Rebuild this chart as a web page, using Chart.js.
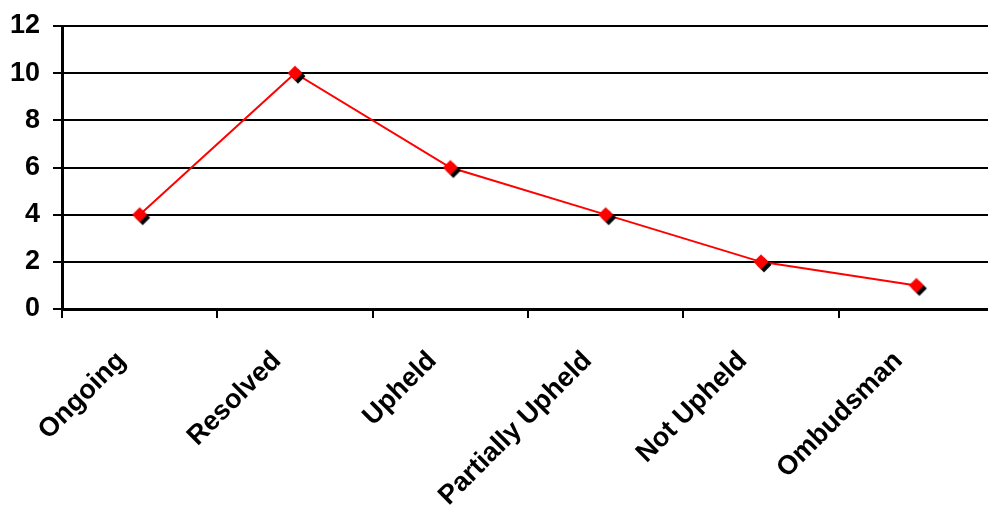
<!DOCTYPE html>
<html>
<head>
<meta charset="utf-8">
<script src="https://cdn.jsdelivr.net/npm/chart.js@4.4.1/dist/chart.umd.min.js"></script>
<style>
  html, body { margin: 0; padding: 0; background: #fff; overflow: hidden; }
  #wrap { position: relative; width: 1004px; height: 505px; }
</style>
</head>
<body>
<div id="wrap"><canvas id="c"></canvas></div>
<script>
const categories = ['Ongoing', 'Resolved', 'Upheld', 'Partially Upheld', 'Not Upheld', 'Ombudsman'];
const counts = [4, 10, 6, 4, 2, 1];
const yTicks = [0, 2, 4, 6, 8, 10, 12];

// Diamond marker with a black drop shadow, drawn once into an offscreen canvas
function makeMarker() {
  const size = 26, c = size / 2, r = 7.5, off = 3;
  const cv = document.createElement('canvas');
  cv.width = size; cv.height = size;
  const g = cv.getContext('2d');
  const diamond = (cx, cy, color) => {
    g.beginPath();
    g.moveTo(cx, cy - r); g.lineTo(cx + r, cy); g.lineTo(cx, cy + r); g.lineTo(cx - r, cy);
    g.closePath(); g.fillStyle = color; g.fill();
  };
  diamond(c + off, c + off, '#000000');
  diamond(c, c, '#ff0000');
  return cv;
}

const family = '"Liberation Sans", Arial, sans-serif';
const xFont = { family, size: 27, weight: 'bold' };
// tighter line height keeps the top label from pushing the plot area down
const yFont = { family, size: 27, weight: 'bold', lineHeight: 0.9 };

new Chart(document.getElementById('c'), {
  type: 'line',
  data: {
    labels: categories,
    datasets: [{
      data: counts,
      borderColor: '#ff0000',
      borderWidth: 2,
      pointStyle: makeMarker(),
      pointRadius: 8,
      pointHoverRadius: 8,
      tension: 0,
      fill: false
    }]
  },
  options: {
    responsive: true,
    maintainAspectRatio: false,
    animation: false,
    events: [],
    layout: { padding: { top: 26, right: 1, left: 0, bottom: 0 } },
    plugins: { legend: { display: false }, tooltip: { enabled: false } },
    scales: {
      x: {
        offset: true,
        grid: { offset: true, drawOnChartArea: false, color: '#000', lineWidth: 2, tickLength: 9 },
        border: { color: '#000', width: 3 },
        ticks: { color: '#000', font: xFont, autoSkip: false, maxRotation: 45, minRotation: 45, padding: 27, labelOffset: -18 },
        afterFit: s => { s.height = 196; }
      },
      y: {
        min: 0, max: 12,
        afterBuildTicks: s => { s.ticks = yTicks.map(v => ({ value: v })); },
        grid: { color: '#000', lineWidth: 2, tickLength: 9 },
        border: { color: '#000', width: 3 },
        ticks: { color: '#000', font: yFont, padding: 13 },
        afterFit: s => { s.width = 62; }
      }
    }
  }
});
</script>
</body>
</html>
